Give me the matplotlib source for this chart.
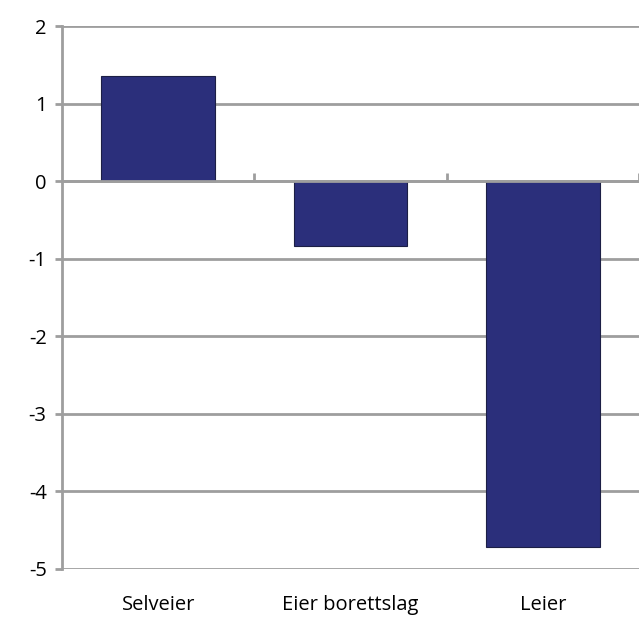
import numpy as np
import matplotlib as mpl
import matplotlib.pyplot as plt

mpl.rcParams['font.family'] = ['Open Sans', 'DejaVu Sans']

categories = ['Selveier', 'Eier borettslag', 'Leier']
values = [1.35, -0.84, -4.71]
yticks = [-5, -4, -3, -2, -1, 0, 1, 2]

gridCol = '#9e9e9e'
barCol = '#2b2f7b'

fig = plt.figure(figsize=(6.39, 6.32), dpi=100)
ax = fig.add_axes([62/639, 63/632, 1 - 62/639, (569 - 26)/632])

x = np.arange(len(categories))
ax.bar(x, values, width=0.59, color=barCol, edgecolor='#1c1f45', linewidth=0.8, zorder=3)

ax.set_xlim(-0.5, len(categories) - 0.5)
ax.set_ylim(yticks[0], yticks[-1])
ax.set_yticks(yticks)
ax.set_yticklabels([str(t) for t in yticks], fontsize=14.5)
ax.yaxis.grid(True, color=gridCol, linewidth=2, zorder=1)
ax.set_axisbelow(True)

ax.set_xticks(x)
ax.set_xticklabels(categories, fontsize=14.5)
ax.tick_params(axis='x', length=0, pad=19)
ax.tick_params(axis='y', length=5, width=2, color=gridCol, pad=6, direction='out')

for s in ['top', 'right', 'bottom']:
    ax.spines[s].set_visible(False)
ax.spines['left'].set_color(gridCol)
ax.spines['left'].set_linewidth(2)

# zero line with category boundary ticks
zeroPos = (0 - yticks[0]) / (yticks[-1] - yticks[0])
sec = ax.secondary_xaxis(zeroPos)
sec.set_xticks(np.arange(len(categories)) + 0.5)
sec.set_xticklabels([])
sec.tick_params(length=6, width=2, color=gridCol, direction='out')
for s in sec.spines.values():
    s.set_color(gridCol)
    s.set_linewidth(2)
sec.set_zorder(4)

fig.savefig('out.png', dpi=100)
